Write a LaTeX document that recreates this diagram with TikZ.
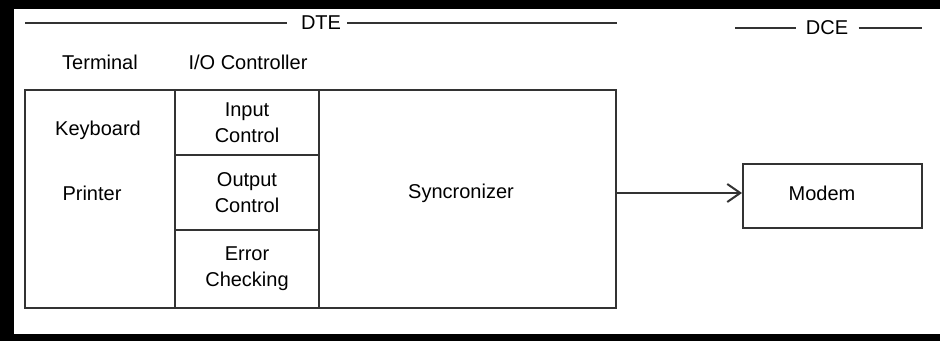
\documentclass[tikz,border=0pt]{standalone}
\usepackage{fontspec}
\setmainfont{Liberation Sans}
\usetikzlibrary{arrows.meta}
\definecolor{ink}{HTML}{333333}

\tikzset{
  cell/.style={draw=ink,line width=1pt,rectangle,inner sep=0pt,align=center,font=\fontsize{10}{13}\selectfont},
  txt/.style={inner sep=1pt,align=center,font=\fontsize{10}{13}\selectfont},
  rule/.style={draw=ink,line width=1pt},
}

\begin{document}
\begin{tikzpicture}[x=0.5pt,y=-0.5pt]
	\useasboundingbox (0,0) rectangle (940,341);
	% frame round the page
	\fill[black] (0,0) rectangle (940,9);
	\fill[black] (0,0) rectangle (14,341);
	\fill[black] (0,334) rectangle (940,341);

	% group headings
	\node[txt] (dte) at (321,23) {DTE};
	\coordinate (dte_l) at (25,23);
	\coordinate (dte_r) at (617,23);
	\draw[rule] (dte_l) -- ([xshift=-6pt]dte.west);
	\draw[rule] ([xshift=2pt]dte.east) -- (dte_r);

	\node[txt] (dce) at (827,28) {DCE};
	\coordinate (dce_l) at (735,28);
	\coordinate (dce_r) at (922,28);
	\draw[rule] (dce_l) -- ([xshift=-4pt]dce.west);
	\draw[rule] ([xshift=4pt]dce.east) -- (dce_r);

	\node[txt] (term_hd) at (100,62) {Terminal};
	\node[txt] (ioc_hd) at (248,62) {I/O Controller};

	% DTE blocks
	\node[cell,minimum width=75pt,minimum height=109pt] (term) at (100,199) {};
	\node[cell,minimum width=72pt,minimum height=32.5pt] (inctl) at (247,122.5) {Input\\Control};
	\node[cell,minimum width=72pt,minimum height=37.5pt] (outctl) at (247,192.5) {Output\\Control};
	\node[cell,minimum width=72pt,minimum height=39pt] (errchk) at (247,269) {Error\\Checking};
	\node[cell,minimum width=148.5pt,minimum height=109pt] (sync) at (467.5,199) {};

	\node[txt] (kbd) at (98,130) {Keyboard};
	\node[txt] (prn) at (92,193) {Printer};
	\node[txt] (sync_lbl) at (461,193) {Syncronizer};

	% DCE block
	\node[cell,minimum width=89.5pt,minimum height=32pt] (modem) at (832.5,196) {};
	\node[txt] (modem_lbl) at (822,193) {Modem};

	\draw[rule,-{Straight Barb[length=6.5pt,width=9pt]}] (sync.east |- modem_lbl) -- (modem.west |- modem_lbl);
\end{tikzpicture}
\end{document}
